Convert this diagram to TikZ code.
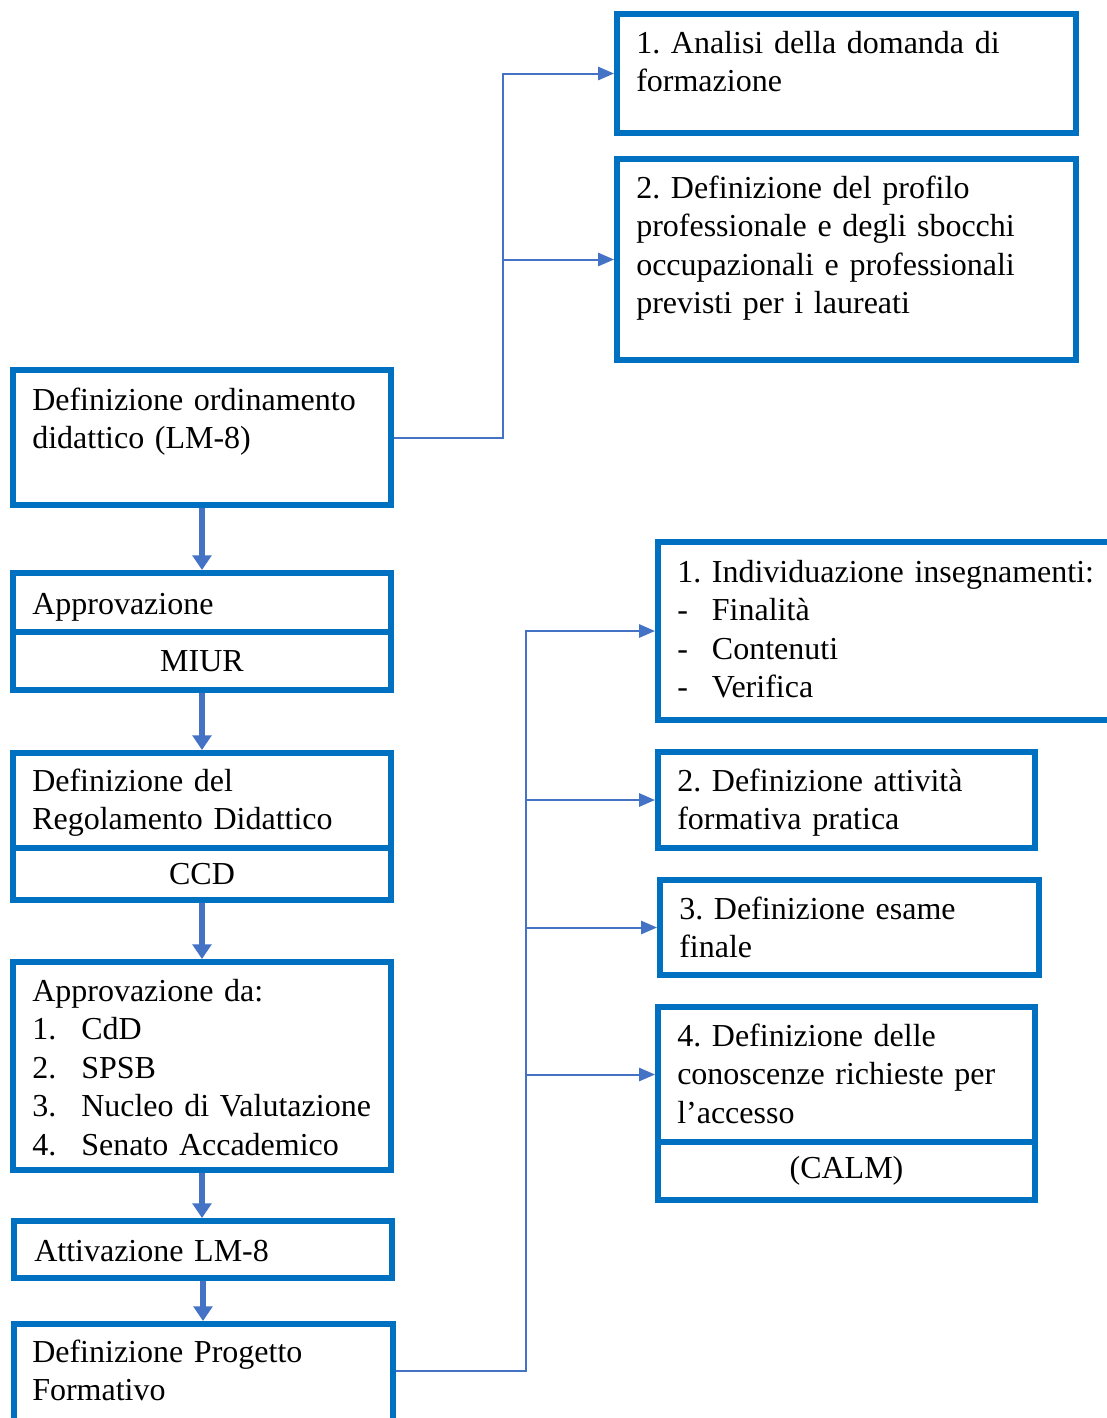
\documentclass[tikz,border=0pt]{standalone}
\usepackage{fontspec}
\setmainfont{Liberation Serif}
\frenchspacing
\usetikzlibrary{arrows.meta,fit}
\definecolor{boxblue}{HTML}{0070C0}
\definecolor{linkblue}{HTML}{4472C4}
\tikzset{
  box/.style={draw=boxblue, line width=4.5pt, fill=white, inner sep=0pt},
  txt/.style={anchor=base west, inner sep=0pt, align=left, text width=330pt, font=\fontsize{24}{28.9}\selectfont},
  lbl/.style={anchor=center, inner sep=0pt, font=\fontsize{24}{28.9}\selectfont},
  flow/.style={draw=linkblue, line width=4.5pt, -{Triangle[length=11pt,width=14pt]}},
  link/.style={draw=linkblue, line width=1.5pt, -{Triangle[length=12pt,width=10pt]}},
}
\newcommand{\numitem}[2]{\makebox[36.75pt][l]{#1}#2}
\newcommand{\dashitem}[1]{\makebox[26pt][l]{-}#1}

\begin{document}
\begin{tikzpicture}[x=0.75pt,y=0.75pt,yscale=-1,xscale=1]
	\useasboundingbox (0,0) rectangle (1107,1418);
	\clip (0,0) rectangle (1107,1418);
	
	% Left column
	\node[box, fit={(13,370) (391,505)}] (ordin) {};
	\node[txt] (ordin-t) at (32,410) {Definizione ordinamento\\didattico (LM-8)};
	
	\node[box, fit={(13,573) (391,632)}] (approv) {};
	\node[txt] (approv-t) at (32,614) {Approvazione};
	\node[box, fit={(13,632) (391,690)}] (miur) {};
	\node[lbl] (miur-t) at (miur.center) {MIUR};
	
	\node[box, fit={(13,753) (391,848)}] (regol) {};
	\node[txt] (regol-t) at (32,791) {Definizione del\\Regolamento Didattico};
	\node[box, fit={(13,848) (391,900)}] (ccd) {};
	\node[lbl] (ccd-t) at (ccd.center) {CCD};
	
	\node[box, fit={(13,962) (391,1170)}] (approvda) {};
	\node[txt] (approvda-t) at (32,1001) {Approvazione da:\\\numitem{1.}{CdD}\\\numitem{2.}{SPSB}\\\numitem{3.}{Nucleo di Valutazione}\\\numitem{4.}{Senato Accademico}};
	
	\node[box, fit={(14,1221) (392,1278)}] (attiv) {};
	\node[txt] (attiv-t) at (34,1261) {Attivazione LM-8};
	
	\node[box, fit={(14,1324) (393,1440)}] (progetto) {};
	\node[txt] (progetto-t) at (32,1362) {Definizione Progetto\\Formativo};
	
	% Upper right column
	\node[box, fit={(617,14) (1076,133)}] (analisi) {};
	\node[txt] (analisi-t) at (636,53) {1. Analisi della domanda di\\formazione};
	
	\node[box, fit={(617,159) (1076,360)}] (profilo) {};
	\node[txt] (profilo-t) at (636,198) {2. Definizione del profilo\\professionale e degli sbocchi\\occupazionali e professionali\\previsti per i laureati};
	
	% Lower right column
	\node[box, fit={(658,542) (1125,720)}] (insegn) {};
	\node[txt] (insegn-t) at (677,582) {1. Individuazione insegnamenti:\\\dashitem{Finalità}\\\dashitem{Contenuti}\\\dashitem{Verifica}};
	
	\node[box, fit={(658,752) (1035,848)}] (pratica) {};
	\node[txt] (pratica-t) at (677,791) {2. Definizione attività\\formativa pratica};
	
	\node[box, fit={(660,880) (1039,975)}] (esame) {};
	\node[txt] (esame-t) at (679,919) {3. Definizione esame\\finale};
	
	\node[box, fit={(658,1007) (1035,1142)}] (accesso) {};
	\node[txt] (accesso-t) at (677,1046) {4. Definizione delle\\conoscenze richieste per\\l’accesso};
	\node[box, fit={(658,1142) (1035,1200)}] (calm) {};
	\node[lbl] (calm-t) at (calm.center) {(CALM)};
	
	% Flow
	\draw[flow] (ordin.south) -- (approv.north);
	\draw[flow] (miur.south) -- (regol.north);
	\draw[flow] (ccd.south) -- (approvda.north);
	\draw[flow] (approvda.south) -- (approvda.south |- attiv.north);
	\draw[flow] (attiv.south) -- (attiv.south |- progetto.north);
	
	% Connection
	\coordinate (split1) at (503,438);
	\draw[link] (ordin.east |- split1) -- (split1) |- (analisi.west);
	\draw[link] (split1) |- (profilo.west);
	
	% Connection
	\coordinate (split2) at (526,1371);
	\draw[link] (progetto.east |- split2) -- (split2) |- (insegn.west);
	\draw[link] (split2) |- (pratica.west);
	\draw[link] (split2) |- (esame.west);
	\draw[link] (split2) |- (accesso.west);
	
\end{tikzpicture}
\end{document}
